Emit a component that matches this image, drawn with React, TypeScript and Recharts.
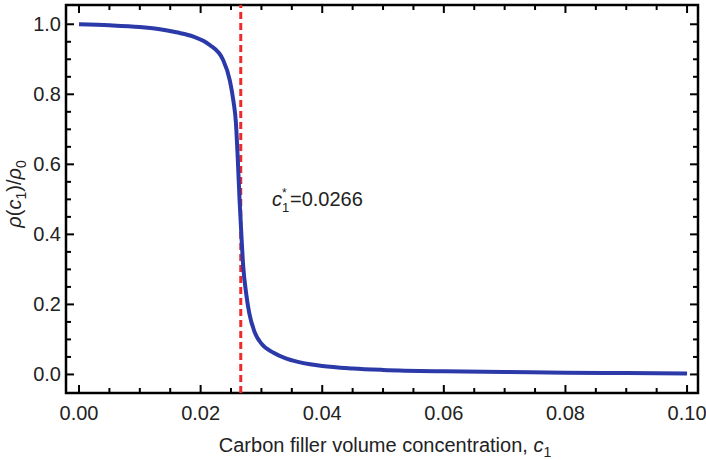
import { LineChart, Line, XAxis, YAxis, ReferenceLine, ReferenceArea } from "recharts";

// curve: filler volume concentration c1 vs rho(c1)/rho0
const concentration = [
  0, 0.005, 0.01, 0.0133, 0.016, 0.0188, 0.0215, 0.0237, 0.0248, 0.0254, 0.0258,
  0.0261, 0.0264, 0.0267, 0.027, 0.0275, 0.028, 0.0289, 0.03, 0.032, 0.034, 0.036,
  0.038, 0.04, 0.045, 0.05, 0.06, 0.07, 0.08, 0.09, 0.1
];
const ratio = [
  1.0, 0.997, 0.992, 0.986, 0.977, 0.965, 0.941, 0.898, 0.84, 0.78, 0.72,
  0.62, 0.5, 0.4, 0.31, 0.23, 0.175, 0.12, 0.088, 0.062, 0.046, 0.036,
  0.029, 0.024, 0.017, 0.013, 0.009, 0.007, 0.005, 0.004, 0.003
];

const criticalC = 0.0266;
const xDomain = [-0.00214, 0.1018];
const yDomain = [-0.053, 1.055];
// ticks split over two axes each (labelled side + mirrored side)
const xTicksA = [0, 0.01, 0.02, 0.03, 0.04, 0.05, 0.06, 0.07, 0.08, 0.09, 0.1];
const xTicksB = [0.005, 0.015, 0.025, 0.035, 0.045, 0.055, 0.065, 0.075, 0.085, 0.095];
const yTicksA = [0, 0.1, 0.2, 0.3, 0.4, 0.5, 0.6, 0.7, 0.8, 0.9, 1.0];
const yTicksB = [0.05, 0.15, 0.25, 0.35, 0.45, 0.55, 0.65, 0.75, 0.85, 0.95];

const data = concentration.map((c, i) => ({ c, r: ratio[i] }));

const W = 706;
const H = 460;
const X_AXIS_H = 67;
const TOP_AXIS_H = 5;
const Y_AXIS_W = 66;
const RIGHT_AXIS_W = 8;
const PLOT_TOP = TOP_AXIS_H;
const PLOT_BOTTOM = H - X_AXIS_H;
const PLOT_LEFT = Y_AXIS_W;
const PLOT_RIGHT = W - RIGHT_AXIS_W;

const FONT = "'Liberation Sans', Arial, Helvetica, sans-serif";
const noLine = { stroke: "none" };

const isMajor = (v: number, step: number) => Math.abs(v / step - Math.round(v / step)) < 1e-6;

function Mark({ d }: { d: string }) {
  return <path d={d} stroke="#000" strokeWidth={2} fill="none" />;
}

function BottomTick(p: any) {
  const major = isMajor(p.payload.value, 0.02);
  const len = major ? 8 : 5;
  return (
    <g>
      <Mark d={`M${p.x},${p.y} L${p.x},${p.y - len}`} />
      <Mark d={`M${p.x},${PLOT_TOP} L${p.x},${PLOT_TOP + len}`} />
      {major && (
        <text x={p.x} y={p.y + 27} textAnchor="middle" fontSize={20} fill="#222" fontFamily={FONT}>
          {p.payload.value.toFixed(2)}
        </text>
      )}
    </g>
  );
}

function TopTick(p: any) {
  return (
    <g>
      <Mark d={`M${p.x},${p.y} L${p.x},${p.y + 5}`} />
      <Mark d={`M${p.x},${PLOT_BOTTOM} L${p.x},${PLOT_BOTTOM - 5}`} />
    </g>
  );
}

function LeftTick(p: any) {
  const major = isMajor(p.payload.value, 0.2);
  const len = major ? 8 : 5;
  return (
    <g>
      <Mark d={`M${p.x},${p.y} L${p.x + len},${p.y}`} />
      <Mark d={`M${PLOT_RIGHT},${p.y} L${PLOT_RIGHT - len},${p.y}`} />
      {major && (
        <text x={p.x - 5} y={p.y + 7} textAnchor="end" fontSize={20} fill="#222" fontFamily={FONT}>
          {p.payload.value.toFixed(1)}
        </text>
      )}
    </g>
  );
}

function RightTick(p: any) {
  return (
    <g>
      <Mark d={`M${p.x},${p.y} L${p.x - 5},${p.y}`} />
      <Mark d={`M${PLOT_LEFT},${p.y} L${PLOT_LEFT + 5},${p.y}`} />
    </g>
  );
}

function Titles() {
  const yCx = 21;
  const yCy = 194;
  return (
    <svg
      width={W}
      height={H}
      style={{ position: "absolute", left: 0, top: 0, pointerEvents: "none" }}
      fontFamily={FONT}
      fontSize={20}
      fill="#222"
    >
      <text x={yCx} y={yCy} transform={`rotate(-90, ${yCx}, ${yCy})`} textAnchor="middle">
        <tspan fontStyle="italic">ρ</tspan>
        <tspan>(</tspan>
        <tspan fontStyle="italic">c</tspan>
        <tspan fontSize={14} dy={5}>1</tspan>
        <tspan dy={-5}>)/</tspan>
        <tspan fontStyle="italic">ρ</tspan>
        <tspan fontSize={14} dy={5}>0</tspan>
      </text>
      <text x={385} y={452} textAnchor="middle">
        <tspan>Carbon filler volume concentration, </tspan>
        <tspan fontStyle="italic">c</tspan>
        <tspan fontSize={14} dy={5}>1</tspan>
      </text>
      <text x={272} y={206} fontStyle="italic">c</text>
      <text x={282} y={197} fontSize={12}>*</text>
      <text x={282} y={212} fontSize={13}>1</text>
      <text x={290} y={206}>=0.0266</text>
    </svg>
  );
}

export default function App() {
  return (
    <div style={{ width: W, height: H, background: "#fff", position: "relative" }}>
      <style>{`body { margin: 0; }`}</style>
      <LineChart width={W} height={H} data={data} margin={{ top: 0, right: 0, bottom: 0, left: 0 }}>
        <XAxis
          xAxisId="main"
          dataKey="c"
          type="number"
          domain={xDomain}
          allowDataOverflow
          ticks={xTicksA}
          interval={0}
          tickSize={0}
          tickMargin={0}
          tickLine={noLine}
          axisLine={noLine}
          height={X_AXIS_H}
          tick={<BottomTick />}
        />
        <XAxis
          xAxisId="minor"
          orientation="top"
          dataKey="c"
          type="number"
          domain={xDomain}
          allowDataOverflow
          ticks={xTicksB}
          interval={0}
          tickSize={0}
          tickMargin={0}
          tickLine={noLine}
          axisLine={noLine}
          height={TOP_AXIS_H}
          tick={<TopTick />}
        />
        <YAxis
          yAxisId="main"
          type="number"
          domain={yDomain}
          allowDataOverflow
          ticks={yTicksA}
          interval={0}
          tickSize={0}
          tickMargin={0}
          tickLine={noLine}
          axisLine={noLine}
          width={Y_AXIS_W}
          tick={<LeftTick />}
        />
        <YAxis
          yAxisId="minor"
          orientation="right"
          type="number"
          domain={yDomain}
          allowDataOverflow
          ticks={yTicksB}
          interval={0}
          tickSize={0}
          tickMargin={0}
          tickLine={noLine}
          axisLine={noLine}
          width={RIGHT_AXIS_W}
          tick={<RightTick />}
        />
        <ReferenceArea
          xAxisId="main"
          yAxisId="main"
          x1={xDomain[0]}
          x2={xDomain[1]}
          y1={yDomain[0]}
          y2={yDomain[1]}
          fill="none"
          stroke="#000"
          strokeWidth={2.5}
        />
        <ReferenceLine
          x={criticalC}
          xAxisId="main"
          yAxisId="main"
          stroke="#ee2b2b"
          strokeWidth={3}
          strokeDasharray="7 4"
        />
        <Line
          xAxisId="main"
          yAxisId="main"
          type="monotone"
          dataKey="r"
          stroke="#2b3aa8"
          strokeWidth={4}
          dot={false}
          isAnimationActive={false}
        />
      </LineChart>
      <Titles />
    </div>
  );
}
